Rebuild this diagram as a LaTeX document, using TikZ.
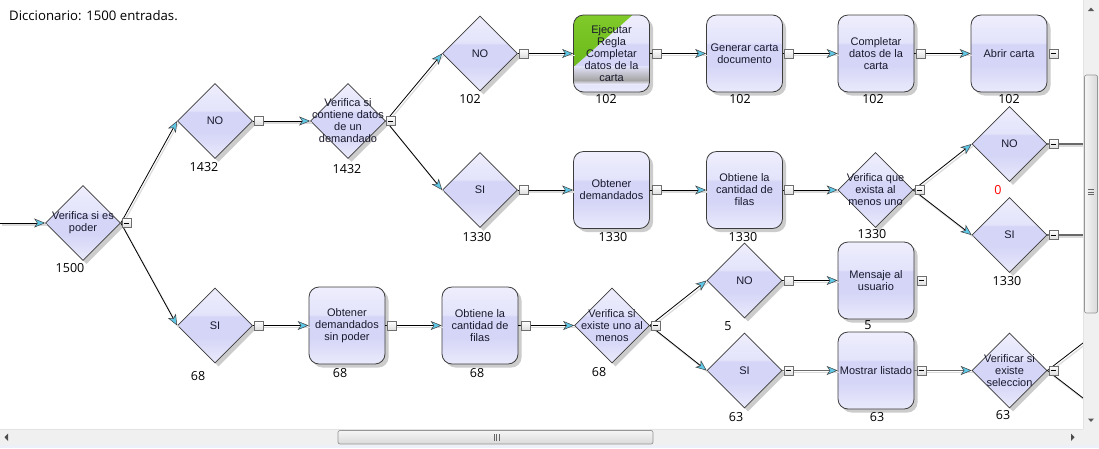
\documentclass[tikz,border=0pt]{standalone}
\usepackage{fontspec}
\setmainfont{Liberation Sans}
\newfontfamily\lblfont{Open Sans}
\usetikzlibrary{shapes.geometric,shadows,arrows.meta}
\definecolor{gtop}{RGB}{238,238,253}
\definecolor{gtop2}{RGB}{227,227,251}
\definecolor{gmid}{RGB}{213,213,247}
\definecolor{gbot}{RGB}{234,234,252}
\definecolor{arrowc}{RGB}{95,200,230}
\definecolor{txtc}{RGB}{25,25,45}
\definecolor{bordc}{RGB}{60,60,60}
\definecolor{sbtrack}{RGB}{240,240,240}
\definecolor{sbthumbA}{RGB}{245,245,245}
\definecolor{sbthumbB}{RGB}{218,218,218}
\definecolor{sbborder}{RGB}{150,150,150}
\definecolor{sbline}{RGB}{227,227,227}
\definecolor{sbbottom}{RGB}{236,241,249}
\definecolor{greenA}{RGB}{96,176,20}
\definecolor{greenB}{RGB}{128,202,42}
\definecolor{thickc}{RGB}{105,105,105}
\definecolor{cboxb}{RGB}{110,110,110}
\pgfdeclareverticalshading{glass}{100bp}{color(0bp)=(gbot); color(25bp)=(gbot); color(42bp)=(gmid); color(56bp)=(gmid); color(57bp)=(gtop2); color(75bp)=(gtop); color(100bp)=(gtop)}
\tikzset{
  nshadow/.style={drop shadow={shadow xshift=3.5pt,shadow yshift=-3.5pt,fill=black!20,opacity=1}},
  diam/.style={diamond, aspect=1, minimum width=75pt, minimum height=75pt, inner sep=0pt,
    draw=bordc, line width=0.7pt, shade, shading=glass, nshadow},
  dtext/.style={font=\fontsize{11}{12}\selectfont, text=txtc, align=center, inner sep=0pt},
  bx/.style={rectangle, rounded corners=10pt, minimum width=76pt, minimum height=77pt, inner sep=0pt,
    draw=bordc, line width=0.8pt, shade, shading=glass, nshadow,
    font=\fontsize{11}{12}\selectfont, text=txtc, align=center},
  cnt/.style={font=\lblfont\fontsize{12.5}{14}\selectfont, inner sep=0pt, text=black},
  cbox/.style={rectangle, draw=cboxb, line width=0.6pt, minimum size=9pt, inner sep=0pt,
    top color=white, bottom color=black!13},
  cdash/.style={cbox, path picture={\draw[black, line width=0.8pt]
    ([xshift=-2.6pt]path picture bounding box.center) -- ([xshift=2.6pt]path picture bounding box.center);}},
  conn/.style={draw=black, line width=0.8pt,
    -{Stealth[length=11pt,width=9pt,inset=3pt,line width=0.5pt,color=black!75,fill=arrowc]}},
  connthick/.style={conn, draw=thickc, line width=1.8pt},
  shadowl/.style={draw=black!14, line width=1.2pt},
}
\newcommand\linkset[2]{%
  \draw[#1] (in) -- (d1.west);
  \draw[#1] (d1.east) -- (d2.west);
  \draw[#1] (d1.east) -- (d9.west);
  \draw[#1] (d2.east) -- (d3.west);
  \draw[#1] (d3.east) -- (d4.west);
  \draw[#1] (d3.east) -- (d5.west);
  \draw[#1] (d4.east) -- (b1.west);
  \draw[#1] (b1.east) -- (b2.west);
  \draw[#1] (b2.east) -- (b3.west);
  \draw[#1] (b3.east) -- (b4.west);
  \draw[#1] (d5.east) -- (b5.west);
  \draw[#1] (b5.east) -- (b6.west);
  \draw[#1] (b6.east) -- (d6.west);
  \draw[#1] (d6.east) -- (d7.west);
  \draw[#1] (d6.east) -- (d8.west);
  \draw[#2,-] (d7.east) -- (r1);
  \draw[#2,-] (d8.east) -- (r2);
  \draw[#1] (d9.east) -- (b7.west);
  \draw[#1] (b7.east) -- (b8.west);
  \draw[#1] (b8.east) -- (d10.west);
  \draw[#1] (d10.east) -- (d11.west);
  \draw[#1] (d10.east) -- (d12.west);
  \draw[#1] (d11.east) -- (b9.west);
  \draw[#2] (d12.east) -- (b10.west);
  \draw[#2] (b10.east) -- (d13.west);
  \draw[#1,-] (d13.east) -- (r3);
  \draw[#1,-] (d13.east) -- (r4);
}
\begin{document}
\begin{tikzpicture}[x=1pt,y=-1pt]
\useasboundingbox (0,0) rectangle (1099,448);
\fill[white] (0,0) rectangle (1099,448);

\node[anchor=west, inner sep=0pt, font=\lblfont\fontsize{13.2}{15}\selectfont] (title) at (9,15.5) {Diccionario: 1500 entradas.};

% free ends
\coordinate (in) at (0,223);
\coordinate (r1) at (1083,144);
\coordinate (r2) at (1083,235);
\coordinate (r3) at (1083,343);
\coordinate (r4) at (1083,398);

% diamonds
\node[diam, label={[dtext]center:{Verifica si es\\poder}}] (d1) at (83,223) {};
\node[diam, label={[dtext]center:{NO}}] (d2) at (215,121) {};
\node[diam, label={[dtext]center:{Verifica si\\contiene datos\\de un\\demandado}}] (d3) at (348,121) {};
\node[diam, label={[dtext]center:{NO}}] (d4) at (480,53.5) {};
\node[diam, label={[dtext]center:{SI}}] (d5) at (480,190) {};
\node[diam, label={[dtext]center:{Verifica que\\exista al\\menos uno}}] (d6) at (875.5,190) {};
\node[diam, label={[dtext]center:{NO}}] (d7) at (1009.5,144) {};
\node[diam, label={[dtext]center:{SI}}] (d8) at (1009.5,235) {};
\node[diam, label={[dtext]center:{SI}}] (d9) at (215,325.5) {};
\node[diam, label={[dtext]center:{Verifica si\\existe uno al\\menos}}] (d10) at (612,325.5) {};
\node[diam, label={[dtext]center:{NO}}] (d11) at (744.5,280.5) {};
\node[diam, label={[dtext]center:{SI}}] (d12) at (744.5,370.5) {};
\node[diam, label={[dtext]center:{Verificar si\\existe\\seleccion}}] (d13) at (1009.5,370.5) {};

% boxes
\node[bx, path picture={
    \shade[sharp corners, top color=greenB, bottom color=greenA]
      (path picture bounding box.north west) -- ++(59pt,0pt) -- ++(-59pt,-52pt) -- cycle;
    \shade[sharp corners, top color=gtop2, bottom color=black!35]
      ([yshift=26pt]path picture bounding box.south west) rectangle ([yshift=12pt]path picture bounding box.south east);
    \shade[sharp corners, top color=black!35, bottom color=gbot]
      ([yshift=12pt]path picture bounding box.south west) rectangle ([yshift=8pt]path picture bounding box.south east);
  }] (b1) at (611.5,53.5) {Ejecutar\\Regla\\Completar\\datos de la\\carta};
\node[bx] (b2) at (744.5,53.5) {Generar carta\\documento};
\node[bx] (b3) at (876,53.5) {Completar\\datos de la\\carta};
\node[bx] (b4) at (1009,53.5) {Abrir carta};
\node[bx] (b5) at (611.5,190) {Obtener\\demandados};
\node[bx] (b6) at (744.5,190) {Obtiene la\\cantidad de\\filas};
\node[bx] (b7) at (347,325.5) {Obtener\\demandados\\sin poder};
\node[bx] (b8) at (480,325.5) {Obtiene la\\cantidad de\\filas};
\node[bx] (b9) at (876,280.5) {Mensaje al\\usuario};
\node[bx] (b10) at (876,370.5) {Mostrar listado};

% counts
\node[cnt] (n1) at (70,268) {1500};
\node[cnt] (n2) at (204,167) {1432};
\node[cnt] (n3) at (347,169) {1432};
\node[cnt] (n4) at (470,99) {102};
\node[cnt] (n5) at (477,237) {1330};
\node[cnt] (n6) at (872,234) {1330};
\node[cnt, text=red] (n7) at (998,190) {0};
\node[cnt] (n8) at (1007,281) {1330};
\node[cnt] (n9) at (198,376) {68};
\node[cnt] (n10) at (599,372) {68};
\node[cnt] (n11) at (728,326) {5};
\node[cnt] (n12) at (736,417) {63};
\node[cnt] (n13) at (1003,415) {63};
\node[cnt] (m1) at (606,99) {102};
\node[cnt] (m2) at (740,99) {102};
\node[cnt] (m3) at (873,99) {102};
\node[cnt] (m4) at (1009,99) {102};
\node[cnt] (m5) at (613,237) {1330};
\node[cnt] (m6) at (743,237) {1330};
\node[cnt] (m7) at (340,373) {68};
\node[cnt] (m8) at (477,373) {68};
\node[cnt] (m9) at (868,325) {5};
\node[cnt] (m10) at (877,417) {63};

% connectors
\begin{scope}[transform canvas={shift={(1.5pt,-2pt)}}]
  \linkset{shadowl}{shadowl}
\end{scope}
\linkset{conn}{connthick}

% collapse boxes
\node[cdash] (c1) at ([xshift=6pt]d1.east) {};
\node[cbox]  (c2) at ([xshift=6pt]d2.east) {};
\node[cdash] (c3) at ([xshift=5pt]d3.east) {};
\node[cbox]  (c4) at ([xshift=6pt]d4.east) {};
\node[cbox]  (c5) at ([xshift=6pt]d5.east) {};
\node[cdash] (c6) at ([xshift=6pt]d6.east) {};
\node[cdash] (c7) at ([xshift=6pt]d7.east) {};
\node[cdash] (c8) at ([xshift=6pt]d8.east) {};
\node[cbox]  (c9) at ([xshift=6pt]d9.east) {};
\node[cdash] (c10) at ([xshift=6pt]d10.east) {};
\node[cbox]  (c11) at ([xshift=6pt]d11.east) {};
\node[cdash] (c12) at ([xshift=6pt]d12.east) {};
\node[cdash] (c13) at ([xshift=6pt]d13.east) {};
\node[cbox]  (e1) at ([xshift=7pt]b1.east) {};
\node[cbox]  (e2) at ([xshift=6pt]b2.east) {};
\node[cbox]  (e3) at ([xshift=6pt]b3.east) {};
\node[cdash] (e4) at ([xshift=6pt]b4.east) {};
\node[cbox]  (e5) at ([xshift=7pt]b5.east) {};
\node[cbox]  (e6) at ([xshift=6pt]b6.east) {};
\node[cbox]  (e7) at ([xshift=6pt]b7.east) {};
\node[cbox]  (e8) at ([xshift=7pt]b8.east) {};
\node[cdash] (e9) at ([xshift=7pt]b9.east) {};
\node[cdash] (e10) at ([xshift=7pt]b10.east) {};

% scrollbars
\fill[sbtrack] (1083,0) rectangle (1099,448);
\draw[sbline, line width=0.6pt] (1083.3,0) -- (1083.3,429);
\fill[sbtrack] (0,429) rectangle (1099,445);
\draw[sbline, line width=0.6pt] (0,429.3) -- (1083,429.3);
\fill[sbbottom] (0,445) rectangle (1099,448);
\fill[black!65] (1088,11) -- (1094,11) -- (1091,7.5) -- cycle;
\fill[black!65] (1088,418.5) -- (1094,418.5) -- (1091,422) -- cycle;
\fill[black!70] (8,433.5) -- (8,441) -- (4.5,437.2) -- cycle;
\fill[black!70] (1071,433.5) -- (1071,441) -- (1074.5,437.2) -- cycle;
\shade[left color=sbthumbA, right color=sbthumbB, draw=sbborder, line width=0.7pt, rounded corners=2pt]
  (1084.5,75) rectangle (1097.5,313);
\draw[black!60, line width=0.6pt] (1088,189.5) -- (1094,189.5) (1088,192) -- (1094,192) (1088,194.5) -- (1094,194.5);
\shade[top color=sbthumbA, bottom color=sbthumbB, draw=sbborder, line width=0.7pt, rounded corners=2pt]
  (338,430.5) rectangle (653,444);
\draw[black!60, line width=0.6pt] (494,434) -- (494,440.5) (496.5,434) -- (496.5,440.5) (499,434) -- (499,440.5);
\end{tikzpicture}
\end{document}
